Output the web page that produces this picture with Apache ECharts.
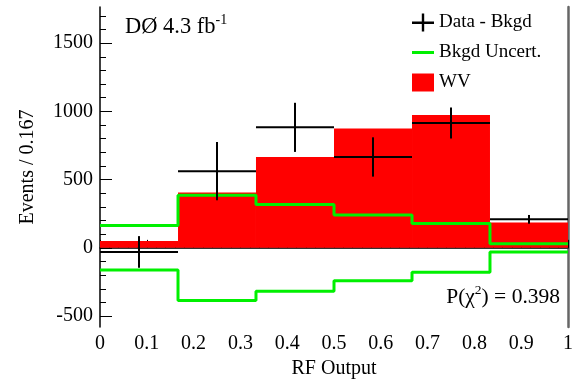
<!DOCTYPE html>
<html>
<head>
<meta charset="utf-8">
<script src="https://cdn.jsdelivr.net/npm/echarts@6/dist/echarts.min.js"></script>
<style>
  html, body { margin: 0; padding: 0; background: #fff; }
  #chartDom { width: 578px; height: 386px; }
</style>
</head>
<body>
<div id="chartDom"></div>
<script>
// bin edges of the RF output histogram
const binEdges = [0, 0.1667, 0.3333, 0.5, 0.6667, 0.8333, 1];
// WV signal expectation per bin
const wvValues = [50, 406, 666, 874, 973, 185];
// data minus background, with errors
const dataValues = [-30, 562, 883, 666, 915, 209];
const dataErrors = [116, 213, 180, 144, 114, 32];
// background uncertainty (symmetric)
const bkgdUncert = [163, 386, 318, 241, 178, 30];
// tick labels
const xTicks = [0, 0.1, 0.2, 0.3, 0.4, 0.5, 0.6, 0.7, 0.8, 0.9, 1];
const yMajorTicks = [-500, 0, 500, 1000, 1500];
const yMinorTicks = [-500, -400, -300, -200, -100, 0, 100, 200, 300, 400, 500, 600, 700, 800, 900,
  1000, 1100, 1200, 1300, 1400, 1500, 1600, 1700];

const font = 'Liberation Serif';
const yMin = -580, yMax = 1765;

// step line points: left edges + closing point at x=1
function stepPoints(vals) {
  const pts = vals.map((v, i) => [binEdges[i], v]);
  pts.push([binEdges[binEdges.length - 1], vals[vals.length - 1]]);
  return pts;
}

const chartOption = {
  animation: false,
  textStyle: { fontFamily: font, color: '#000' },
  grid: {
    left: 100, right: 10, top: 7, bottom: 59,
    outerBoundsMode: 'none',
    show: false
  },
  legend: {
    orient: 'vertical',
    left: 412,
    top: 13,
    itemWidth: 22,
    itemHeight: 18,
    itemGap: 11,
    padding: 0,
    itemTextGap: 6,
    textStyle: { fontFamily: font, fontSize: 19, color: '#000' },
    data: [
      { name: 'Data - Bkgd', icon: 'path://M0,8H22V10.5H0Z M9.8,0H12.2V18H9.8Z' },
      // tiny corner squares keep the icon box at 22x18 so the bar stays thin
      { name: 'Bkgd Uncert.', icon: 'path://M0,0H0.01V0.01H0Z M0,7.5H22V10.5H0Z M21.99,17.99H22V18H21.99Z' },
      { name: 'WV', icon: 'rect' }
    ]
  },
  xAxis: [
    {
      type: 'value', position: 'bottom', min: 0, max: 1, interval: 0.1,
      name: 'RF Output', nameLocation: 'middle', nameGap: 23,
      nameTextStyle: { fontFamily: font, fontSize: 20, color: '#000' },
      axisLine: { lineStyle: { color: '#000', width: 1.5 } },
      axisTick: { inside: true, length: 8, lineStyle: { color: '#000', width: 1 } },
      minorTick: { show: true, splitNumber: 5, length: 4, lineStyle: { color: '#000', width: 1 } },
      axisLabel: {
        margin: 7, fontFamily: font, fontSize: 20, color: '#000',
        customValues: xTicks,
        formatter: (v) => (v === 0 || v === 1) ? String(v) : v.toFixed(1)
      },
      splitLine: { show: false }
    },
    {
      type: 'value', position: 'top', min: 0, max: 1,
      axisLine: { show: true, lineStyle: { color: '#333', width: 1 } },
      axisTick: { show: false }, axisLabel: { show: false }, splitLine: { show: false }
    }
  ],
  yAxis: [
    {
      type: 'value', position: 'left', min: yMin, max: yMax,
      name: 'Events / 0.167', nameLocation: 'middle', nameGap: 62,
      nameTextStyle: { fontFamily: font, fontSize: 20, color: '#000' },
      axisLine: { show: true, lineStyle: { color: '#000', width: 1.5 } },
      axisTick: { inside: true, length: 12, customValues: yMajorTicks, lineStyle: { color: '#000', width: 1 } },
      axisLabel: {
        margin: 7, fontFamily: font, fontSize: 20, color: '#000',
        customValues: yMajorTicks,
        formatter: (v) => String(v)
      },
      splitLine: { show: false }
    },
    {
      type: 'value', position: 'left', min: yMin, max: yMax,
      axisLine: { show: false },
      axisTick: { show: true, inside: true, length: 6, customValues: yMinorTicks, lineStyle: { color: '#000', width: 1 } },
      axisLabel: { show: false },
      splitLine: { show: false }
    },
    {
      type: 'value', position: 'right', min: yMin, max: yMax,
      axisLine: { show: true, lineStyle: { color: '#666', width: 2.5 } },
      axisTick: { show: false }, axisLabel: { show: false }, splitLine: { show: false }
    }
  ],
  graphic: [
    {
      type: 'text', left: 125, top: 13,
      style: {
        text: '{m|DØ 4.3 fb}{s|-1}',
        rich: {
          m: { fontFamily: font, fontSize: 22.5, color: '#000', lineHeight: 26, verticalAlign: 'bottom' },
          s: { fontFamily: font, fontSize: 14, color: '#000', lineHeight: 26, verticalAlign: 'top' }
        }
      }
    },
    {
      type: 'text', right: 18, top: 283,
      style: {
        text: '{m|P(χ}{s|2}{m|) = 0.398}',
        rich: {
          m: { fontFamily: font, fontSize: 21.5, color: '#000', lineHeight: 25, verticalAlign: 'bottom' },
          s: { fontFamily: font, fontSize: 13.5, color: '#000', lineHeight: 25, verticalAlign: 'top' }
        }
      }
    }
  ],
  series: [
    {
      name: 'WV',
      type: 'custom',
      itemStyle: { color: '#ff0000' },
      z: 1,
      data: wvValues.map((v, i) => [binEdges[i], binEdges[i + 1], v]),
      renderItem: (params, api) => {
        const p0 = api.coord([api.value(0), api.value(2)]);
        const p1 = api.coord([api.value(1), 0]);
        return {
          type: 'rect',
          shape: { x: p0[0], y: Math.min(p0[1], p1[1]), width: p1[0] - p0[0], height: Math.abs(p1[1] - p0[1]) },
          style: { fill: '#ff0000' }
        };
      }
    },
    {
      name: 'Bkgd Uncert.',
      type: 'line',
      step: 'end',
      symbol: 'none',
      z: 2,
      color: '#00f000',
      lineStyle: { color: '#00f000', width: 3 },
      data: stepPoints(bkgdUncert)
    },
    {
      name: 'Bkgd Uncert.',
      type: 'line',
      step: 'end',
      symbol: 'none',
      z: 2,
      color: '#00f000',
      lineStyle: { color: '#00f000', width: 3 },
      data: stepPoints(bkgdUncert.map(v => -v))
    },
    {
      name: 'Data - Bkgd',
      type: 'custom',
      itemStyle: { color: '#000' },
      z: 3,
      data: dataValues.map((v, i) => [binEdges[i], binEdges[i + 1], v, dataErrors[i]]),
      renderItem: (params, api) => {
        const x0 = api.value(0), x1 = api.value(1), v = api.value(2), e = api.value(3);
        const l = api.coord([x0, v]);
        const r = api.coord([x1, v]);
        const t = api.coord([(x0 + x1) / 2, v + e]);
        const b = api.coord([(x0 + x1) / 2, v - e]);
        const st = { stroke: '#000', lineWidth: 2 };
        return {
          type: 'group',
          children: [
            { type: 'line', shape: { x1: l[0], y1: l[1], x2: r[0], y2: r[1] }, style: st },
            { type: 'line', shape: { x1: t[0], y1: t[1], x2: b[0], y2: b[1] }, style: st }
          ]
        };
      }
    }
  ]
};

const chartIns = echarts.init(document.getElementById('chartDom'));
chartIns.setOption(chartOption);
</script>
</body>
</html>
